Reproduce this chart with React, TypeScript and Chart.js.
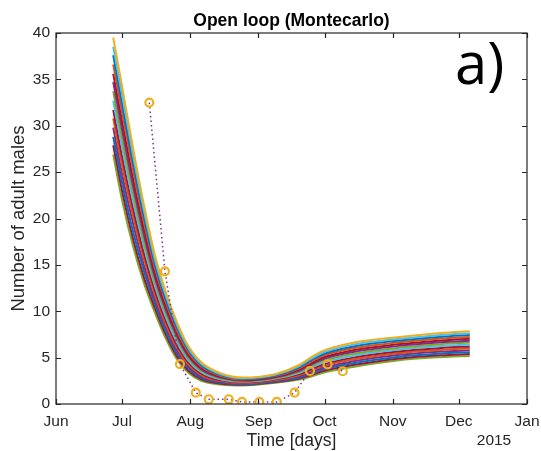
import React, { useEffect, useRef } from "react";
import { Chart, registerables } from "chart.js";

Chart.register(...registerables);

// Days counted from 1 June
const sampleDays = [26, 30, 35, 40, 45, 50, 55, 60, 66, 75, 85, 100, 110, 116, 121, 135, 155, 175, 188];

const run01 = [39.5, 34.3, 27.6, 21.4, 16.0, 12.0, 8.8, 6.3, 4.5, 3.3, 2.85, 3.25, 4.15, 5.05, 5.7, 6.6, 7.2, 7.65, 7.85];
const run02 = [38.5, 33.4, 26.8, 20.8, 15.5, 11.6, 8.5, 6.08, 4.35, 3.21, 2.78, 3.18, 4.03, 4.89, 5.52, 6.4, 7.01, 7.45, 7.64];
const run03 = [37.6, 32.4, 26.0, 20.1, 15.0, 11.2, 8.2, 5.85, 4.19, 3.12, 2.72, 3.1, 3.91, 4.73, 5.34, 6.2, 6.82, 7.25, 7.44];
const run04 = [36.6, 31.5, 25.2, 19.5, 14.6, 10.9, 7.9, 5.63, 4.04, 3.02, 2.65, 3.03, 3.79, 4.57, 5.16, 6.0, 6.62, 7.05, 7.23];
const run05 = [35.6, 30.5, 24.3, 18.8, 14.1, 10.5, 7.6, 5.41, 3.88, 2.93, 2.59, 2.96, 3.67, 4.4, 4.98, 5.8, 6.43, 6.85, 7.03];
const run06 = [34.7, 29.6, 23.5, 18.2, 13.6, 10.1, 7.3, 5.18, 3.73, 2.84, 2.52, 2.88, 3.55, 4.24, 4.8, 5.6, 6.24, 6.65, 6.82];
const run07 = [33.7, 28.6, 22.7, 17.5, 13.1, 9.7, 7.0, 4.96, 3.58, 2.75, 2.46, 2.81, 3.43, 4.08, 4.62, 5.4, 6.05, 6.45, 6.62];
const run08 = [32.7, 27.7, 21.9, 16.9, 12.7, 9.3, 6.65, 4.74, 3.42, 2.65, 2.39, 2.74, 3.32, 3.92, 4.43, 5.2, 5.85, 6.25, 6.41];
const run09 = [31.7, 26.7, 21.1, 16.2, 12.2, 8.9, 6.34, 4.52, 3.27, 2.56, 2.33, 2.67, 3.2, 3.76, 4.25, 5.0, 5.66, 6.05, 6.21];
const run10 = [30.8, 25.8, 20.3, 15.6, 11.7, 8.5, 6.03, 4.29, 3.12, 2.47, 2.26, 2.59, 3.08, 3.6, 4.07, 4.8, 5.47, 5.85, 6.0];
const run11 = [29.8, 24.8, 19.5, 14.9, 11.2, 8.2, 5.72, 4.07, 2.96, 2.38, 2.2, 2.52, 2.96, 3.43, 3.89, 4.6, 5.28, 5.65, 5.8];
const run12 = [28.8, 23.9, 18.6, 14.3, 10.8, 7.8, 5.42, 3.85, 2.81, 2.28, 2.13, 2.45, 2.84, 3.27, 3.71, 4.4, 5.08, 5.45, 5.59];
const run13 = [27.9, 23.0, 17.8, 13.6, 10.3, 7.4, 5.11, 3.62, 2.65, 2.19, 2.07, 2.37, 2.72, 3.11, 3.53, 4.2, 4.89, 5.25, 5.39];
const run14 = [26.9, 22.0, 17.0, 13.0, 9.8, 7.0, 4.8, 3.4, 2.5, 2.1, 2.0, 2.3, 2.6, 2.95, 3.35, 4.0, 4.7, 5.05, 5.18];

const runs = [run01, run02, run03, run04, run05, run06, run07, run08, run09, run10, run11, run12, run13, run14];

const runColors = [
  "#EDB120", "#4DBEEE", "#0072BD", "#D95319", "#A2142F", "#7E2F8E", "#77AC30",
  "#4DBEEE", "#A2142F", "#D95319", "#7E2F8E", "#0072BD", "#A2142F", "#77AC30",
];

const obsDays = [42.4, 49.5, 56.3, 63.5, 69.4, 78.5, 84.5, 92.4, 100.3, 108.4, 115.4, 123.4, 130.3];
const obsValues = [32.5, 14.3, 4.3, 1.22, 0.51, 0.51, 0.22, 0.22, 0.22, 1.22, 3.56, 4.28, 3.53];

const monthTickDays = [0, 30, 61, 92, 122, 153, 183, 214];
const monthTickLabels = ["Jun", "Jul", "Aug", "Sep", "Oct", "Nov", "Dec", "Jan"];
const yTickValues = [0, 5, 10, 15, 20, 25, 30, 35, 40];

const FONT = "'Liberation Sans', Arial, Helvetica, sans-serif";
const INK = "#262626";

const framePlugin = {
  id: "matlabFrame",
  afterDatasetsDraw(chart: any) {
    const { ctx, chartArea } = chart;
    const { left, right, top, bottom } = chartArea;
    const xs = chart.scales.x;
    const ys = chart.scales.y;
    ctx.save();
    ctx.strokeStyle = INK;
    ctx.lineWidth = 1.2;
    ctx.strokeRect(left, top, right - left, bottom - top);
    const tl = 5;
    ctx.beginPath();
    monthTickDays.forEach((d) => {
      const px = Math.round(xs.getPixelForValue(d)) + 0.5;
      ctx.moveTo(px, bottom);
      ctx.lineTo(px, bottom - tl);
      ctx.moveTo(px, top);
      ctx.lineTo(px, top + tl);
    });
    yTickValues.forEach((v) => {
      const py = Math.round(ys.getPixelForValue(v)) + 0.5;
      ctx.moveTo(left, py);
      ctx.lineTo(left + tl, py);
      ctx.moveTo(right, py);
      ctx.lineTo(right - tl, py);
    });
    ctx.stroke();
    ctx.restore();
  },
  afterDraw(chart: any) {
    const { ctx, chartArea } = chart;
    const cx = (chartArea.left + chartArea.right) / 2;
    const cy = (chartArea.top + chartArea.bottom) / 2;
    ctx.save();
    ctx.fillStyle = "#000";
    ctx.textAlign = "center";
    ctx.textBaseline = "alphabetic";
    ctx.font = `bold 17.5px ${FONT}`;
    ctx.fillText("Open loop (Montecarlo)", cx, 26);

    ctx.fillStyle = INK;
    ctx.font = `17.5px ${FONT}`;
    ctx.textBaseline = "middle";
    ctx.fillText("Time [days]", cx, 441);
    ctx.font = `15.5px ${FONT}`;
    ctx.fillText("2015", 494, 441);

    ctx.save();
    ctx.translate(19, cy);
    ctx.rotate(-Math.PI / 2);
    ctx.font = `18.5px ${FONT}`;
    ctx.fillText("Number of adult males", 0, 0);
    ctx.restore();

    ctx.fillStyle = "#000";
    ctx.textAlign = "left";
    ctx.textBaseline = "alphabetic";
    ctx.font = `58px 'Open Sans', 'DejaVu Sans', sans-serif`;
    ctx.fillText("a)", 455, 84);
    ctx.restore();
  },
};

export default function App() {
  const canvasRef = useRef<HTMLCanvasElement | null>(null);

  useEffect(() => {
    if (!canvasRef.current) return;
    const runDatasets = runs.map((vals, i) => ({
      label: `run ${i + 1}`,
      data: sampleDays.map((d, j) => ({ x: d, y: vals[j] })),
      borderColor: runColors[i],
      backgroundColor: runColors[i],
      borderWidth: 2,
      pointRadius: 0,
      cubicInterpolationMode: "monotone" as const,
      fill: false,
    }));
    const obsDataset = {
      label: "observed",
      data: obsDays.map((d, j) => ({ x: d, y: obsValues[j] })),
      borderColor: "#7E2F8E",
      borderWidth: 1.5,
      borderDash: [1.5, 3],
      pointRadius: 4,
      pointBorderWidth: 2.2,
      pointBorderColor: "#EDB120",
      pointBackgroundColor: "rgba(0,0,0,0)",
      tension: 0,
      fill: false,
    };

    const chart = new Chart(canvasRef.current, {
      type: "line",
      data: { datasets: [obsDataset as any, ...runDatasets] },
      options: {
        animation: false,
        responsive: false,
        devicePixelRatio: 1,
        layout: { padding: { top: 33, right: 14, left: 0, bottom: 0 } },
        plugins: {
          legend: { display: false },
          tooltip: { enabled: false },
          title: { display: false },
        },
        scales: {
          x: {
            type: "linear",
            min: 0,
            max: 214,
            grid: { display: false, drawTicks: false },
            border: { display: false },
            afterBuildTicks: (scale: any) => {
              scale.ticks = monthTickDays.map((v) => ({ value: v }));
            },
            afterFit: (scale: any) => {
              scale.height = 47;
              scale.paddingLeft = 0;
              scale.paddingRight = 0;
            },
            ticks: {
              autoSkip: false,
              maxRotation: 0,
              padding: 8,
              color: INK,
              font: { family: FONT, size: 15.5 },
              callback: (value: any) => {
                const k = monthTickDays.indexOf(Number(value));
                return k >= 0 ? monthTickLabels[k] : "";
              },
            },
          },
          y: {
            type: "linear",
            min: 0,
            max: 40,
            grid: { display: false, drawTicks: false },
            border: { display: false },
            afterBuildTicks: (scale: any) => {
              scale.ticks = yTickValues.map((v) => ({ value: v }));
            },
            afterFit: (scale: any) => {
              scale.width = 56;
              scale.paddingTop = 0;
              scale.paddingBottom = 0;
            },
            ticks: {
              padding: 6,
              color: INK,
              font: { family: FONT, size: 15.5 },
            },
          },
        },
      },
      plugins: [framePlugin],
    });
    return () => chart.destroy();
  }, []);

  return (
    <div style={{ position: "fixed", left: 0, top: 0, width: 541, height: 451, background: "#fff" }}>
      <canvas ref={canvasRef} width={541} height={451} style={{ display: "block" }} />
    </div>
  );
}
